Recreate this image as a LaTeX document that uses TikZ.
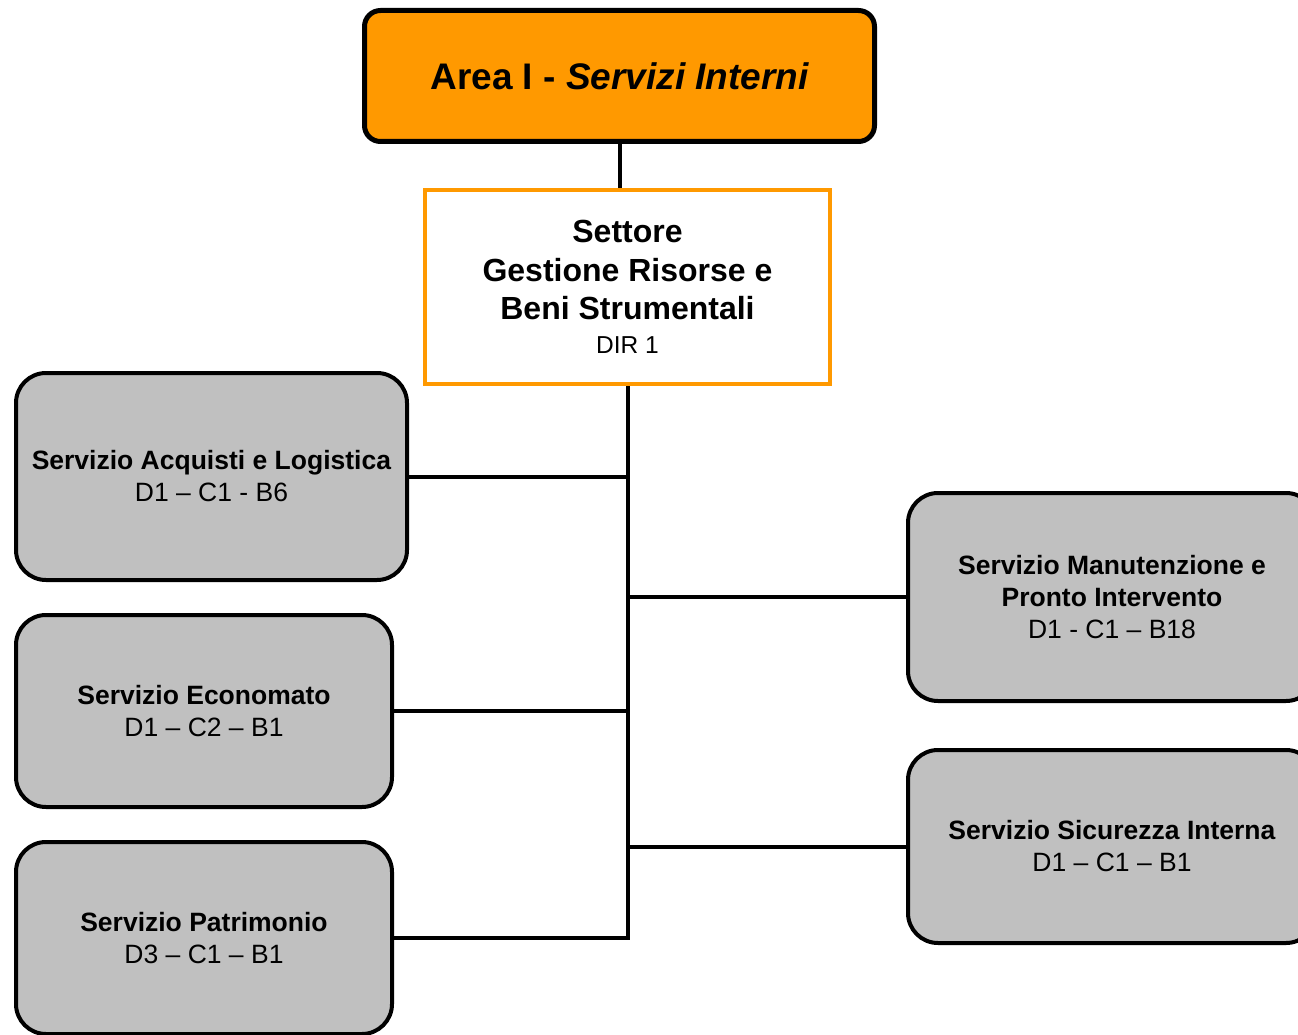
\documentclass[tikz,border=0pt]{standalone}
\usepackage{fontspec}
\setmainfont{Liberation Sans}
\usetikzlibrary{positioning}

\definecolor{areaorange}{HTML}{FF9900}
\definecolor{servgray}{HTML}{C0C0C0}

\tikzset{
  areabox/.style={draw=black, fill=areaorange, line width=5pt, rounded corners=16pt,
    minimum width=510pt, minimum height=131pt, font=\fontsize{37}{44}\selectfont\bfseries},
  settbox/.style={draw=areaorange, fill=white, line width=4pt, align=center,
    minimum width=405pt, minimum height=194pt, font=\fontsize{32}{38.5}\selectfont},
  servbox/.style={draw=black, fill=servgray, line width=4pt, rounded corners=30pt,
    align=center, font=\fontsize{26.5}{32}\selectfont},
  link/.style={draw=black, line width=4pt}
}

\begin{document}
\begin{tikzpicture}[x=1pt,y=-1pt]

    % fix the page size and cut the boxes at the edges
    \useasboundingbox (0,0) rectangle (1298,1035);
    \clip (0,0) rectangle (1298,1035);

    % area and settore
    \node[areabox] (area) at (619.5,76) {Area I - \itshape Servizi Interni};
    \node[settbox] (settore) at (627.5,287)
        {\textbf{Settore}\\\textbf{Gestione Risorse e}\\\textbf{Beni Strumentali}\\[-5pt]{\fontsize{24.5}{29}\selectfont DIR 1}};

    % servizi on the left
    \node[servbox, minimum width=391pt, minimum height=207pt] (acquisti) at (211.5,476.5)
        {\textbf{Servizio Acquisti e Logistica}\\D1 – C1 - B6};
    \node[servbox, minimum width=376pt, minimum height=192pt] (economato) at (204,711)
        {\textbf{Servizio Economato}\\D1 – C2 – B1};
    \node[servbox, minimum width=376pt, minimum height=192pt] (patrimonio) at (204,938)
        {\textbf{Servizio Patrimonio}\\D3 – C1 – B1};

    % servizi on the right
    \node[servbox, minimum width=408pt, minimum height=208pt] (manutenzione) at (1112,597)
        {\textbf{Servizio Manutenzione e}\\\textbf{Pronto Intervento}\\D1 - C1 – B18};
    \node[servbox, minimum width=408pt, minimum height=193pt] (sicurezza) at (1112,846.5)
        {\textbf{Servizio Sicurezza Interna}\\D1 – C1 – B1};

    % connectors
    \draw[link] (area.south) -- (area.south |- settore.north);
    \draw[link] (settore.south) |- (patrimonio.east);
    \foreach \s in {acquisti,economato}
        \draw[link] (\s.east) -- (\s.east -| settore.south);
    \foreach \s in {manutenzione,sicurezza}
        \draw[link] (\s.west) -- (\s.west -| settore.south);

\end{tikzpicture}
\end{document}
